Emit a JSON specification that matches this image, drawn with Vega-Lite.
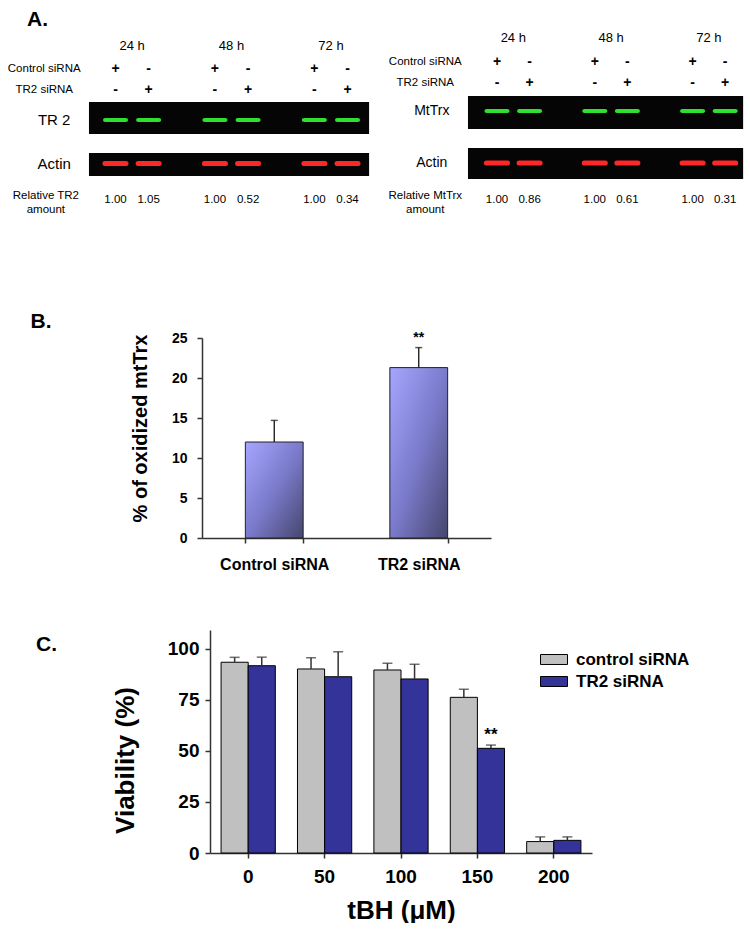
{
  "$schema": "https://vega.github.io/schema/vega-lite/v6.json",
  "padding": 0,
  "background": "white",
  "spacing": 58,
  "config": {
    "view": {"stroke": null},
    "font": "Liberation Sans",
    "text": {"font": "Liberation Sans", "color": "#000"},
    "axis": {"grid": false, "labelFont": "Liberation Sans", "titleFont": "Liberation Sans", "labelColor": "#000", "titleColor": "#000", "domainColor": "#333", "tickColor": "#333", "domainWidth": 1.5, "tickWidth": 1.5},
    "legend": {"labelFont": "Liberation Sans"}
  },
  "datasets": {
    "boxes": [
      {"blot": "target", "top": 4, "bottom": 6},
      {"blot": "actin", "top": 7, "bottom": 9}
    ],
    "bands": [
      {"blot": "target", "lane": 1, "row": 5}, {"blot": "target", "lane": 2, "row": 5},
      {"blot": "target", "lane": 4, "row": 5}, {"blot": "target", "lane": 5, "row": 5},
      {"blot": "target", "lane": 7, "row": 5}, {"blot": "target", "lane": 8, "row": 5},
      {"blot": "actin", "lane": 1, "row": 8}, {"blot": "actin", "lane": 2, "row": 8},
      {"blot": "actin", "lane": 4, "row": 8}, {"blot": "actin", "lane": 5, "row": 8},
      {"blot": "actin", "lane": 7, "row": 8}, {"blot": "actin", "lane": 8, "row": 8}
    ],
    "times": [
      {"lane": 1.5, "row": 1, "label": "24 h"},
      {"lane": 4.5, "row": 1, "label": "48 h"},
      {"lane": 7.5, "row": 1, "label": "72 h"}
    ],
    "signs": [
      {"lane": 1, "row": 2, "sign": "+"}, {"lane": 2, "row": 2, "sign": "-"},
      {"lane": 4, "row": 2, "sign": "+"}, {"lane": 5, "row": 2, "sign": "-"},
      {"lane": 7, "row": 2, "sign": "+"}, {"lane": 8, "row": 2, "sign": "-"},
      {"lane": 1, "row": 3, "sign": "-"}, {"lane": 2, "row": 3, "sign": "+"},
      {"lane": 4, "row": 3, "sign": "-"}, {"lane": 5, "row": 3, "sign": "+"},
      {"lane": 7, "row": 3, "sign": "-"}, {"lane": 8, "row": 3, "sign": "+"}
    ],
    "leftLabels": [
      {"row": 2, "label": "Control siRNA"},
      {"row": 3, "label": "TR2 siRNA"}
    ],
    "rightLabels": [
      {"row": 2, "label": "Control siRNA"},
      {"row": 3, "label": "TR2 siRNA"}
    ],
    "leftAmount": [{"row": 10, "label": "Relative TR2\namount"}],
    "rightAmount": [{"row": 10, "label": "Relative MtTrx\namount"}],
    "leftBlots": [{"row": 5, "label": "TR 2"}, {"row": 8, "label": "Actin"}],
    "rightBlots": [{"row": 5, "label": "MtTrx"}, {"row": 8, "label": "Actin"}],
    "leftRatios": [
      {"lane": 1, "row": 10, "ratio": "1.00"}, {"lane": 2, "row": 10, "ratio": "1.05"},
      {"lane": 4, "row": 10, "ratio": "1.00"}, {"lane": 5, "row": 10, "ratio": "0.52"},
      {"lane": 7, "row": 10, "ratio": "1.00"}, {"lane": 8, "row": 10, "ratio": "0.34"}
    ],
    "rightRatios": [
      {"lane": 1, "row": 10, "ratio": "1.00"}, {"lane": 2, "row": 10, "ratio": "0.86"},
      {"lane": 4, "row": 10, "ratio": "1.00"}, {"lane": 5, "row": 10, "ratio": "0.61"},
      {"lane": 7, "row": 10, "ratio": "1.00"}, {"lane": 8, "row": 10, "ratio": "0.31"}
    ],
    "letterA": [{"row": 0, "panel": "A."}],
    "oxidized": [
      {"group": "Control siRNA", "value": 12.0, "upper": 14.7},
      {"group": "TR2 siRNA", "value": 21.3, "upper": 23.8, "sig": "**"}
    ],
    "viability": [
      {"tbh": "0", "group": "control siRNA", "value": 93.5, "upper": 95.9},
      {"tbh": "0", "group": "TR2 siRNA", "value": 91.8, "upper": 96.0},
      {"tbh": "50", "group": "control siRNA", "value": 90.2, "upper": 95.7},
      {"tbh": "50", "group": "TR2 siRNA", "value": 86.4, "upper": 98.7},
      {"tbh": "100", "group": "control siRNA", "value": 89.7, "upper": 93.0},
      {"tbh": "100", "group": "TR2 siRNA", "value": 85.3, "upper": 92.5},
      {"tbh": "150", "group": "control siRNA", "value": 76.3, "upper": 80.2},
      {"tbh": "150", "group": "TR2 siRNA", "value": 51.3, "upper": 52.9, "sig": "**"},
      {"tbh": "200", "group": "control siRNA", "value": 5.6, "upper": 7.9},
      {"tbh": "200", "group": "TR2 siRNA", "value": 6.2, "upper": 7.9}
    ]
  },
  "vconcat": [
    {
      "bounds": "flush",
      "spacing": 3,
      "hconcat": [
        {
          "width": 372,
          "height": 249,
          "layer": [
            {"data": {"name": "boxes"}, "mark": {"type": "rect", "color": "#050505", "opacity": 1},
              "encoding": {
                "x": {"datum": 0.2, "type": "quantitative", "axis": null, "scale": {"domain": [-2.484, 8.738], "nice": false, "zero": false}},
                "x2": {"datum": 8.65},
                "y": {"field": "top", "type": "quantitative", "axis": null, "scale": {"domain": [0, 1, 2, 3, 4, 5, 6, 7, 8, 9, 10], "range": [20, 46, 69, 90, 102, 120, 134, 153, 163.5, 176, 200], "nice": false, "zero": false}},
                "y2": {"field": "bottom"}
              }},
            {"data": {"name": "bands"}, "transform": [{"filter": "datum.blot == 'target'"}],
              "mark": {"type": "point", "shape": "M-1,0C-1,-0.16,-0.85,-0.16,-0.7,-0.16L0.7,-0.16C0.85,-0.16,1,-0.16,1,0C1,0.16,0.85,0.16,0.7,0.16L-0.7,0.16C-0.85,0.16,-1,0.16,-1,0Z", "size": 625, "filled": true, "fill": "#30e030", "opacity": 1, "strokeWidth": 0},
              "encoding": {"x": {"field": "lane", "type": "quantitative"}, "y": {"field": "row", "type": "quantitative"}}},
            {"data": {"name": "bands"}, "transform": [{"filter": "datum.blot == 'actin'"}],
              "mark": {"type": "point", "shape": "M-1,0C-1,-0.2,-0.85,-0.2,-0.7,-0.2L0.7,-0.2C0.85,-0.2,1,-0.2,1,0C1,0.2,0.85,0.2,0.7,0.2L-0.7,0.2C-0.85,0.2,-1,0.2,-1,0Z", "size": 676, "filled": true, "fill": "#ff2828", "opacity": 1, "strokeWidth": 0},
              "encoding": {"x": {"field": "lane", "type": "quantitative"}, "y": {"field": "row", "type": "quantitative"}}},
            {"data": {"name": "times"}, "mark": {"type": "text", "fontSize": 13}, "encoding": {"x": {"field": "lane", "type": "quantitative"}, "y": {"field": "row", "type": "quantitative"}, "text": {"field": "label"}}},
            {"data": {"name": "signs"}, "mark": {"type": "text", "fontSize": 14, "fontWeight": "bold"}, "encoding": {"x": {"field": "lane", "type": "quantitative"}, "y": {"field": "row", "type": "quantitative"}, "text": {"field": "sign"}}},
            {"data": {"name": "leftLabels"}, "mark": {"type": "text", "fontSize": 11.5}, "encoding": {"x": {"datum": -1.15, "type": "quantitative"}, "y": {"field": "row", "type": "quantitative"}, "text": {"field": "label"}}},
            {"data": {"name": "leftAmount"}, "mark": {"type": "text", "fontSize": 11.5, "lineBreak": "\n", "lineHeight": 14, "dy": -4}, "encoding": {"x": {"datum": -1.1, "type": "quantitative"}, "y": {"field": "row", "type": "quantitative"}, "text": {"field": "label"}}},
            {"data": {"name": "leftBlots"}, "mark": {"type": "text", "fontSize": 15}, "encoding": {"x": {"datum": -0.85, "type": "quantitative"}, "y": {"field": "row", "type": "quantitative"}, "text": {"field": "label"}}},
            {"data": {"name": "leftRatios"}, "mark": {"type": "text", "fontSize": 11.5}, "encoding": {"x": {"field": "lane", "type": "quantitative"}, "y": {"field": "row", "type": "quantitative"}, "text": {"field": "ratio"}}},
            {"data": {"name": "letterA"}, "mark": {"type": "text", "fontSize": 21, "fontWeight": "bold"}, "encoding": {"x": {"datum": -1.35, "type": "quantitative"}, "y": {"field": "row", "type": "quantitative"}, "text": {"field": "panel"}}}
          ]
        },
        {
          "width": 375,
          "height": 249,
          "layer": [
            {"data": {"name": "boxes"}, "mark": {"type": "rect", "color": "#050505", "opacity": 1},
              "encoding": {
                "x": {"datum": 0.11, "type": "quantitative", "axis": null, "scale": {"domain": [-2.742, 8.761], "nice": false, "zero": false}},
                "x2": {"datum": 8.55},
                "y": {"field": "top", "type": "quantitative", "axis": null, "scale": {"domain": [0, 1, 2, 3, 4, 5, 6, 7, 8, 9, 10], "range": [15, 38, 62, 83, 96, 111, 129, 148, 163, 179, 200], "nice": false, "zero": false}},
                "y2": {"field": "bottom"}
              }},
            {"data": {"name": "bands"}, "transform": [{"filter": "datum.blot == 'target'"}],
              "mark": {"type": "point", "shape": "M-1,0C-1,-0.16,-0.85,-0.16,-0.7,-0.16L0.7,-0.16C0.85,-0.16,1,-0.16,1,0C1,0.16,0.85,0.16,0.7,0.16L-0.7,0.16C-0.85,0.16,-1,0.16,-1,0Z", "size": 625, "filled": true, "fill": "#30e030", "opacity": 1, "strokeWidth": 0},
              "encoding": {"x": {"field": "lane", "type": "quantitative"}, "y": {"field": "row", "type": "quantitative"}}},
            {"data": {"name": "bands"}, "transform": [{"filter": "datum.blot == 'actin'"}],
              "mark": {"type": "point", "shape": "M-1,0C-1,-0.2,-0.85,-0.2,-0.7,-0.2L0.7,-0.2C0.85,-0.2,1,-0.2,1,0C1,0.2,0.85,0.2,0.7,0.2L-0.7,0.2C-0.85,0.2,-1,0.2,-1,0Z", "size": 676, "filled": true, "fill": "#ff2828", "opacity": 1, "strokeWidth": 0},
              "encoding": {"x": {"field": "lane", "type": "quantitative"}, "y": {"field": "row", "type": "quantitative"}}},
            {"data": {"name": "times"}, "mark": {"type": "text", "fontSize": 13}, "encoding": {"x": {"field": "lane", "type": "quantitative"}, "y": {"field": "row", "type": "quantitative"}, "text": {"field": "label"}}},
            {"data": {"name": "signs"}, "mark": {"type": "text", "fontSize": 14, "fontWeight": "bold"}, "encoding": {"x": {"field": "lane", "type": "quantitative"}, "y": {"field": "row", "type": "quantitative"}, "text": {"field": "sign"}}},
            {"data": {"name": "rightLabels"}, "mark": {"type": "text", "fontSize": 11.5}, "encoding": {"x": {"datum": -1.2, "type": "quantitative"}, "y": {"field": "row", "type": "quantitative"}, "text": {"field": "label"}}},
            {"data": {"name": "rightAmount"}, "mark": {"type": "text", "fontSize": 11.5, "lineBreak": "\n", "lineHeight": 14, "dy": -4}, "encoding": {"x": {"datum": -1.2, "type": "quantitative"}, "y": {"field": "row", "type": "quantitative"}, "text": {"field": "label"}}},
            {"data": {"name": "rightBlots"}, "mark": {"type": "text", "fontSize": 14}, "encoding": {"x": {"datum": -1.0, "type": "quantitative"}, "y": {"field": "row", "type": "quantitative"}, "text": {"field": "label"}}},
            {"data": {"name": "rightRatios"}, "mark": {"type": "text", "fontSize": 11.5}, "encoding": {"x": {"field": "lane", "type": "quantitative"}, "y": {"field": "row", "type": "quantitative"}, "text": {"field": "ratio"}}}
          ]
        }
      ]
    },
    {
      "bounds": "flush",
      "spacing": 120,
      "hconcat": [
        {
          "width": 82,
          "height": 30,
          "data": {"values": [{"panel": "B."}]},
          "mark": {"type": "text", "fontSize": 21, "fontWeight": "bold", "align": "center", "baseline": "middle"},
          "encoding": {"text": {"field": "panel"}}
        },
        {
          "width": 289,
          "height": 231,
          "data": {"name": "oxidized"},
          "encoding": {
            "x": {"field": "group", "type": "nominal", "sort": ["Control siRNA", "TR2 siRNA"], "scale": {"paddingInner": 0.6, "paddingOuter": 0.3},
              "axis": {"title": null, "labelAngle": 0, "tickBand": "extent", "labelFontSize": 16, "labelFontWeight": "bold", "labelPadding": 13, "tickSize": 5}},
            "y": {"field": "value", "type": "quantitative", "scale": {"domain": [0, 25], "range": [231, 31], "nice": false, "zero": false},
              "axis": {"title": "% of oxidized mtTrx", "values": [0, 5, 10, 15, 20, 25], "labelFontSize": 14, "labelFontWeight": "bold", "labelPadding": 10, "tickSize": 5, "titleFontSize": 20, "titleFontWeight": "bold", "titlePadding": 21, "titleY": 121}}
          },
          "layer": [
            {"mark": {"type": "bar", "stroke": "#222", "strokeWidth": 1, "color": {"gradient": "linear", "x1": 0, "y1": 0, "x2": 1, "y2": 1, "stops": [{"offset": 0, "color": "#a6a6ff"}, {"offset": 0.5, "color": "#7b7bcc"}, {"offset": 1, "color": "#46466e"}]}}},
            {"mark": {"type": "rule", "color": "#111", "strokeWidth": 1.3}, "encoding": {"y2": {"field": "upper"}}},
            {"mark": {"type": "tick", "color": "#111", "thickness": 1.5, "size": 7}, "encoding": {"y": {"field": "upper", "type": "quantitative"}}},
            {"transform": [{"filter": "isValid(datum.sig)"}], "mark": {"type": "text", "fontSize": 14, "fontWeight": "bold", "baseline": "bottom", "dy": -3}, "encoding": {"y": {"field": "upper", "type": "quantitative"}, "text": {"field": "sig"}}}
          ]
        }
      ]
    },
    {
      "bounds": "flush",
      "spacing": 117,
      "hconcat": [
        {
          "width": 93,
          "height": 30,
          "data": {"values": [{"panel": "C."}]},
          "mark": {"type": "text", "fontSize": 21, "fontWeight": "bold", "align": "center", "baseline": "middle"},
          "encoding": {"text": {"field": "panel"}}
        },
        {
          "width": 382,
          "height": 223,
          "data": {"name": "viability"},
          "encoding": {
            "x": {"field": "tbh", "type": "ordinal", "sort": ["0", "50", "100", "150", "200"], "scale": {"paddingInner": 0.29, "paddingOuter": 0.145},
              "axis": {"title": "tBH (μM)", "labelAngle": 0, "labelFontSize": 19, "labelFontWeight": "bold", "labelPadding": 9, "tickSize": 5, "titleFontSize": 26, "titleFontWeight": "bold", "titlePadding": 11}},
            "xOffset": {"field": "group", "type": "nominal", "sort": ["control siRNA", "TR2 siRNA"]},
            "y": {"field": "value", "type": "quantitative", "scale": {"domain": [0, 109.3], "nice": false, "zero": false},
              "axis": {"title": "Viability (%)", "values": [0, 25, 50, 75, 100], "labelFontSize": 19, "labelFontWeight": "bold", "labelPadding": 6, "tickSize": 5, "titleFontSize": 26, "titleFontWeight": "bold", "titlePadding": 29, "titleY": 130}}
          },
          "layer": [
            {"mark": {"type": "bar", "stroke": "#000", "strokeWidth": 1},
              "encoding": {"color": {"field": "group", "type": "nominal", "sort": ["control siRNA", "TR2 siRNA"], "scale": {"domain": ["control siRNA", "TR2 siRNA"], "range": ["#c0c0c0", "#333399"]},
                "legend": {"title": null, "orient": "none", "legendX": 540, "legendY": 645.5, "symbolType": "M-1,-0.37L1,-0.37L1,0.37L-1,0.37Z", "symbolSize": 729, "symbolStrokeColor": "#000", "symbolStrokeWidth": 1, "symbolOpacity": 1, "labelFontSize": 17, "labelFontWeight": "bold", "labelColor": "#000", "labelOffset": 8, "rowPadding": -1, "padding": 0}}}},
            {"mark": {"type": "rule", "color": "#333", "strokeWidth": 1.5}, "encoding": {"y2": {"field": "upper"}}},
            {"mark": {"type": "tick", "color": "#333", "thickness": 1.5, "size": 10}, "encoding": {"y": {"field": "upper", "type": "quantitative"}}},
            {"transform": [{"filter": "isValid(datum.sig)"}], "mark": {"type": "text", "fontSize": 17, "fontWeight": "bold", "baseline": "bottom", "dy": -1}, "encoding": {"y": {"field": "upper", "type": "quantitative"}, "text": {"field": "sig"}}}
          ]
        }
      ]
    }
  ]
}
